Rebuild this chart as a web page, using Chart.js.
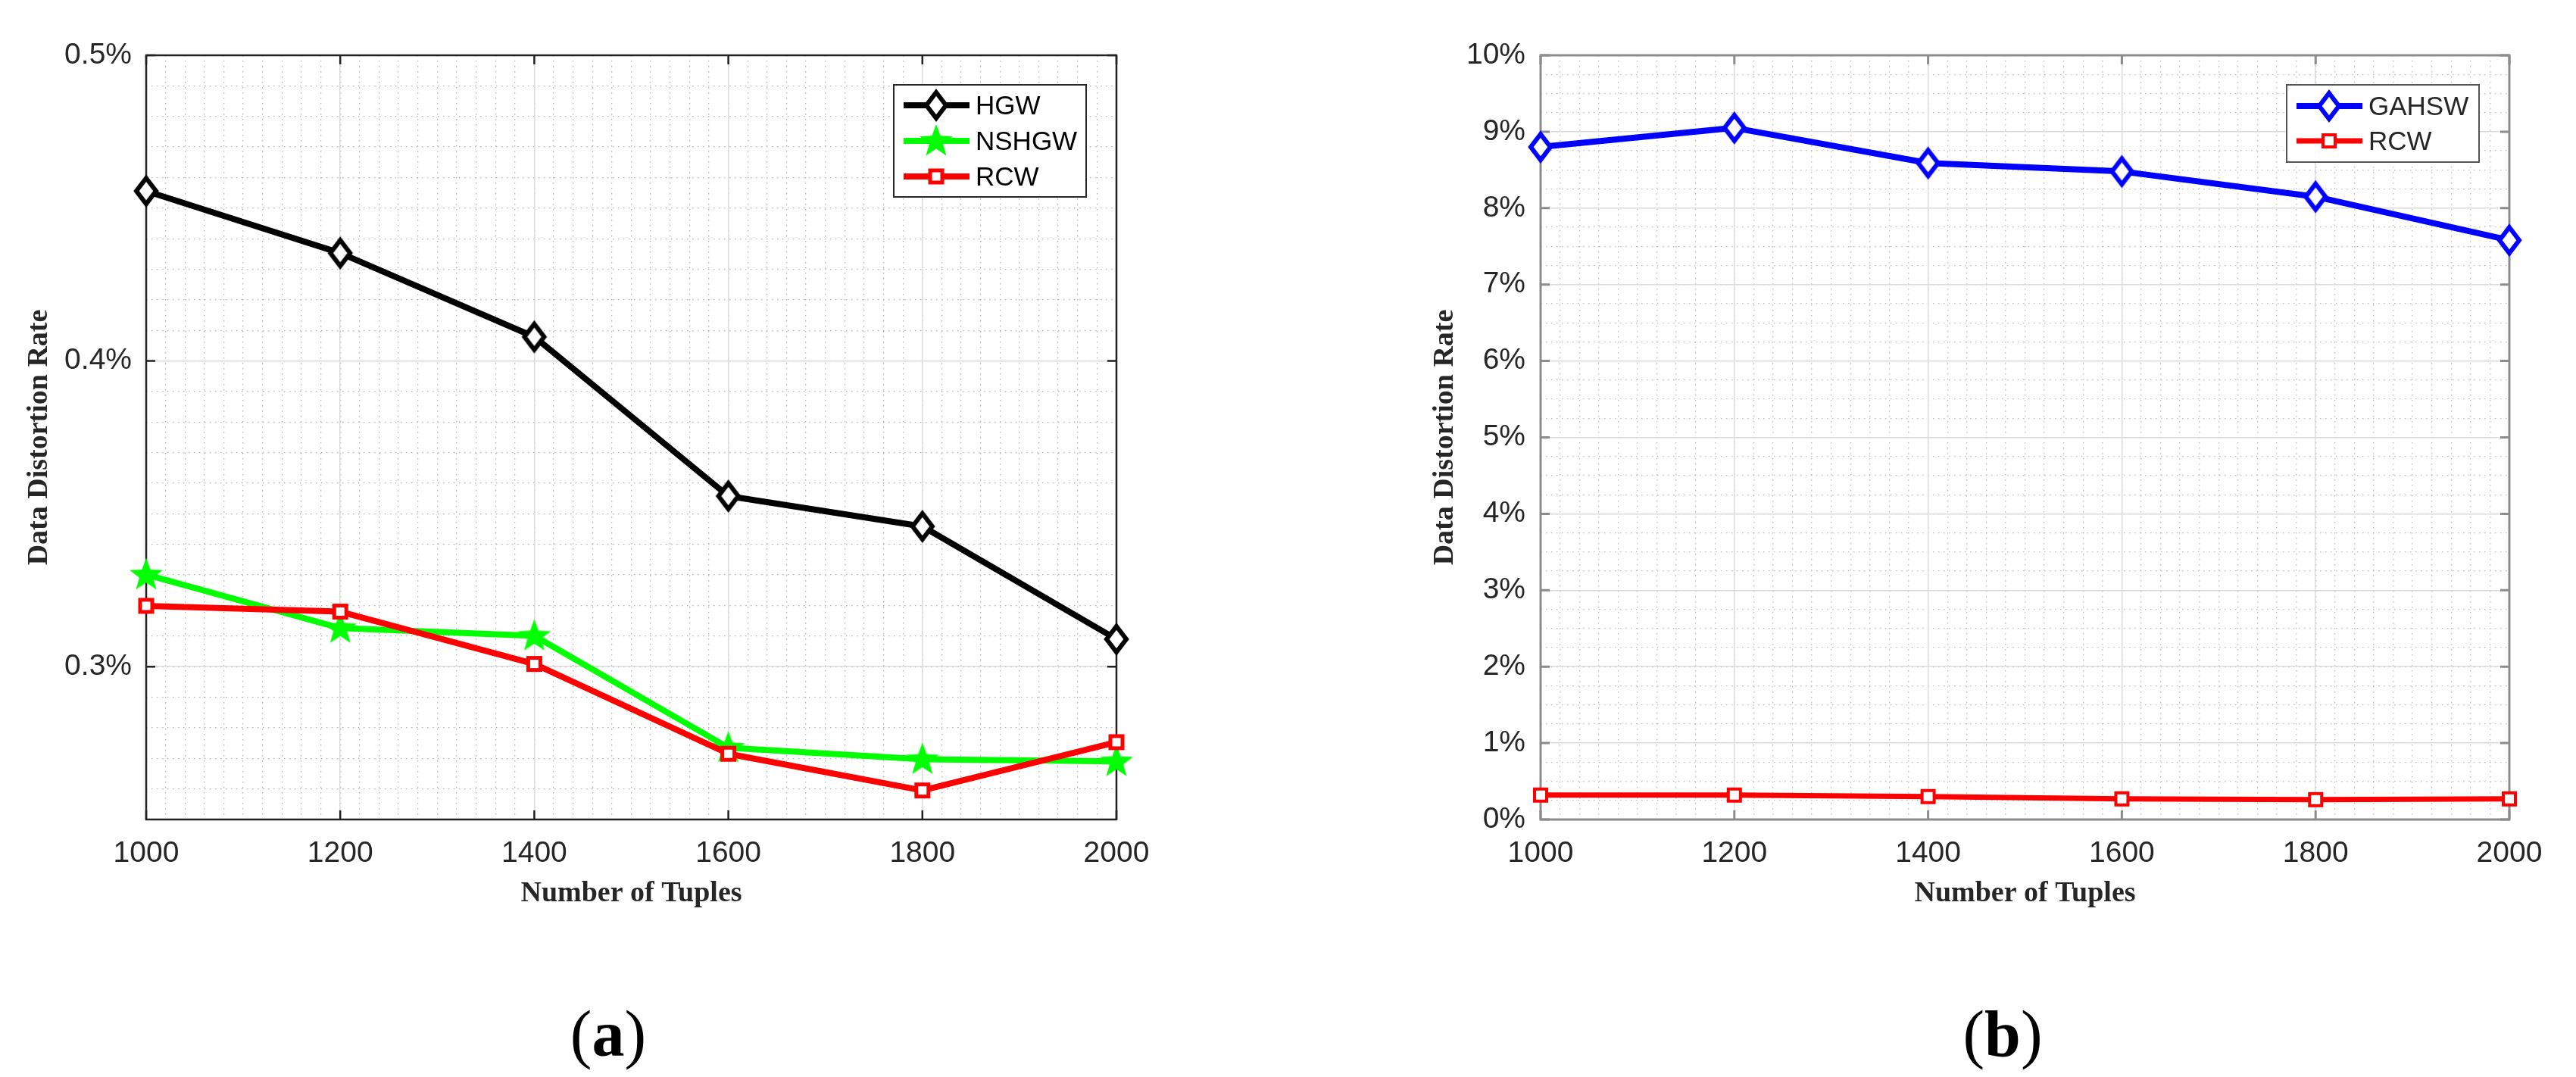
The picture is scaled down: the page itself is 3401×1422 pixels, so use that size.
<!DOCTYPE html>
<html lang="en">
<head>
<meta charset="UTF-8">
<title>Data Distortion Rate</title>
<style>
  body { margin: 0; background: #fff; }
  .panel { position: absolute; top: 0; height: 1250px; }
  .cap { position: absolute; top: 1322px; transform: translateX(-50%); font-family: "Liberation Serif", serif; font-size: 86px; line-height: 1; color: #000; }
</style>
</head>
<body>
<div class="panel" style="left:0; width:1700px"><canvas id="chartA"></canvas></div>
<div class="panel" style="left:1700px; width:1701px"><canvas id="chartB"></canvas></div>
<div class="cap" style="left:803px">(<b>a</b>)</div>
<div class="cap" style="left:2644px">(<b>b</b>)</div>

<script src="https://cdn.jsdelivr.net/npm/chart.js"></script>
<script>
  /* Data, in percent */
  const tuples = [1000, 1200, 1400, 1600, 1800, 2000];
  const hgw = [0.4556, 0.4353, 0.4079, 0.3558, 0.3459, 0.3090];
  const nshgw = [0.3301, 0.3126, 0.3101, 0.2735, 0.2697, 0.2690];
  const rcwA = [0.3199, 0.3180, 0.3009, 0.2715, 0.2595, 0.2753];
  const gahsw = [8.80, 9.05, 8.59, 8.48, 8.15, 7.58];
  const rcwB = [0.32, 0.32, 0.30, 0.27, 0.26, 0.27];

  /* Tick labels */
  const xTicks = [1000, 1200, 1400, 1600, 1800, 2000];
  const yTicksA = [0.3, 0.4, 0.5];
  const yTicksB = [0, 1, 2, 3, 4, 5, 6, 7, 8, 9, 10];

  const tickFont = { family: 'Liberation Sans', size: 39 };
  const titleFont = { family: 'Liberation Serif', size: 38, weight: 'bold' };

  /* Marker images */
  function diamondMarker(color) {
    const w = 26, h = 34, lw = 6;
    const c = document.createElement('canvas');
    c.width = w + 20; c.height = h + 24;
    const g = c.getContext('2d');
    const cx = c.width / 2, cy = c.height / 2;
    g.beginPath();
    g.moveTo(cx, cy - h / 2); g.lineTo(cx + w / 2, cy); g.lineTo(cx, cy + h / 2); g.lineTo(cx - w / 2, cy);
    g.closePath();
    g.fillStyle = '#fff'; g.fill();
    g.lineJoin = 'miter'; g.strokeStyle = color; g.lineWidth = lw; g.stroke();
    return c;
  }

  function starMarker(color) {
    const R = 23, r = 9.5;
    const c = document.createElement('canvas');
    c.width = 50; c.height = 50;
    const g = c.getContext('2d');
    g.beginPath();
    for (let i = 0; i < 10; i++) {
      const a = -Math.PI / 2 + i * Math.PI / 5;
      const rad = i % 2 ? r : R;
      g.lineTo(25 + rad * Math.cos(a), 26 + rad * Math.sin(a));
    }
    g.closePath();
    g.fillStyle = color; g.fill();
    return c;
  }

  function squareMarker(color, s, lw) {
    const c = document.createElement('canvas');
    c.width = s + lw + 4; c.height = s + lw + 4;
    const g = c.getContext('2d');
    const o = (c.width - s) / 2;
    g.fillStyle = '#fff'; g.fillRect(o, o, s, s);
    g.strokeStyle = color; g.lineWidth = lw; g.strokeRect(o, o, s, s);
    return c;
  }

  function points(ys) {
    return tuples.map((t, i) => ({ x: t, y: ys[i] }));
  }

  /* Axes box with inward ticks, like MATLAB */
  const axesBox = {
    id: 'axesBox',
    beforeDatasetsDraw(chart, args, opts) {
      const { ctx, chartArea: a, scales } = chart;
      ctx.save();
      ctx.strokeStyle = opts.color;
      ctx.lineWidth = opts.width;
      ctx.beginPath();
      scales.x.ticks.forEach(t => {
        const px = scales.x.getPixelForValue(t.value);
        ctx.moveTo(px, a.bottom); ctx.lineTo(px, a.bottom - opts.tick);
        ctx.moveTo(px, a.top); ctx.lineTo(px, a.top + opts.tick);
      });
      scales.y.ticks.forEach(t => {
        const py = scales.y.getPixelForValue(t.value);
        ctx.moveTo(a.left, py); ctx.lineTo(a.left + opts.tick, py);
        ctx.moveTo(a.right, py); ctx.lineTo(a.right - opts.tick, py);
      });
      ctx.stroke();
      ctx.strokeRect(a.left, a.top, a.right - a.left, a.bottom - a.top);
      ctx.restore();
    }
  };

  /* Boxed legend inside the plot, top right */
  const boxLegend = {
    id: 'boxLegend',
    afterDraw(chart, args, opts) {
      const { ctx, chartArea } = chart;
      const items = chart.data.datasets;
      const left = chartArea.right - opts.right - opts.width;
      const top = chartArea.top + opts.top;
      const height = opts.pad * 2 + (items.length - 1) * opts.rowGap;
      ctx.save();
      ctx.fillStyle = '#fff';
      ctx.fillRect(left, top, opts.width, height);
      ctx.strokeStyle = opts.borderColor;
      ctx.lineWidth = 2;
      ctx.strokeRect(left, top, opts.width, height);
      items.forEach((ds, i) => {
        const y = top + opts.pad + i * opts.rowGap;
        ctx.strokeStyle = ds.borderColor;
        ctx.lineWidth = ds.borderWidth;
        ctx.beginPath();
        ctx.moveTo(left + 13, y); ctx.lineTo(left + 100, y);
        ctx.stroke();
        const img = ds.pointStyle;
        ctx.drawImage(img, left + 56 - img.width / 2, y - img.height / 2);
        ctx.fillStyle = opts.textColor;
        ctx.font = '35px "Liberation Sans"';
        ctx.textBaseline = 'middle';
        ctx.fillText(ds.label, left + 108, y + 2);
      });
      ctx.restore();
    }
  };

  function makeScales(c) {
    return {
      xm: {
        type: 'linear', position: 'bottom', min: 1000, max: 2000,
        ticks: { display: false, stepSize: 20 },
        grid: { color: c.minorColor, lineWidth: 1.3, drawTicks: false, z: -2 },
        border: { display: false, dash: [1.5, 5.5] },
        afterFit: s => { s.height = 0; }
      },
      ym: {
        type: 'linear', position: 'left', min: c.yMin, max: c.yMax,
        ticks: { display: false, stepSize: c.yMinorStep },
        grid: { color: c.minorColor, lineWidth: 1.3, drawTicks: false, z: -2 },
        border: { display: false, dash: [1.5, 5.5] },
        afterFit: s => { s.width = 0; }
      },
      x: {
        type: 'linear', position: 'bottom', min: 1000, max: 2000,
        afterBuildTicks: s => { s.ticks = xTicks.map(v => ({ value: v })); },
        ticks: { font: tickFont, color: '#262626', padding: 22, maxRotation: 0, callback: v => String(v) },
        grid: { color: '#dcdcdc', lineWidth: 1.5, drawTicks: false },
        border: { display: false },
        title: { display: true, text: 'Number of Tuples', font: titleFont, color: '#262626', padding: { top: 0, bottom: 47 } },
        afterFit: s => { s.height = 168; }
      },
      y: {
        type: 'linear', position: 'left', min: c.yMin, max: c.yMax,
        afterBuildTicks: s => { s.ticks = c.yTicks.map(v => ({ value: v })); },
        ticks: { font: tickFont, color: '#262626', padding: c.tickPad, callback: c.yLabel },
        grid: { color: '#dcdcdc', lineWidth: 1.5, drawTicks: false },
        border: { display: false },
        title: { display: true, text: 'Data Distortion Rate', font: titleFont, color: '#262626', padding: { top: c.titlePad, bottom: 0 } },
        afterFit: s => { s.width = c.yWidth; }
      }
    };
  }

  function lineSet(label, ys, color, width, marker, order) {
    return {
      label: label,
      data: points(ys),
      borderColor: color,
      backgroundColor: color,
      borderWidth: width,
      pointStyle: marker,
      pointRadius: 12,
      tension: 0,
      borderJoinStyle: 'round',
      clip: false,
      order: order
    };
  }

  /* Panel (a) */
  new Chart(document.getElementById('chartA'), {
    type: 'line',
    data: {
      datasets: [
        lineSet('HGW', hgw, '#000000', 8, diamondMarker('#000000'), 3),
        lineSet('NSHGW', nshgw, '#00ff00', 8, starMarker('#00ff00'), 2),
        lineSet('RCW', rcwA, '#ff0000', 8, squareMarker('#ff0000', 16, 5), 1)
      ]
    },
    options: {
      responsive: true,
      maintainAspectRatio: false,
      animation: false,
      devicePixelRatio: 1,
      layout: { padding: { top: 73, right: 226, bottom: 0, left: 0 } },
      scales: makeScales({
        yMin: 0.25, yMax: 0.5, yMinorStep: 0.01, yTicks: yTicksA,
        yLabel: v => v.toFixed(1) + '%', tickPad: 19, titlePad: 29, yWidth: 193,
        minorColor: '#b4b4b4'
      }),
      plugins: {
        legend: { display: false },
        tooltip: { enabled: false },
        axesBox: { color: '#222222', width: 2.5, tick: 12 },
        boxLegend: { right: 40, top: 39, width: 254, pad: 27, rowGap: 47, borderColor: '#262626', textColor: '#000000' }
      }
    },
    plugins: [axesBox, boxLegend]
  });

  /* Panel (b) */
  new Chart(document.getElementById('chartB'), {
    type: 'line',
    data: {
      datasets: [
        lineSet('GAHSW', gahsw, '#0000ff', 8, diamondMarker('#0000ff'), 2),
        lineSet('RCW', rcwB, '#ff0000', 7, squareMarker('#ff0000', 16, 4), 1)
      ]
    },
    options: {
      responsive: true,
      maintainAspectRatio: false,
      animation: false,
      devicePixelRatio: 1,
      layout: { padding: { top: 73, right: 88, bottom: 0, left: 0 } },
      scales: makeScales({
        yMin: 0, yMax: 10, yMinorStep: 0.25, yTicks: yTicksB,
        yLabel: v => v + '%', tickPad: 20, titlePad: 185, yWidth: 334,
        minorColor: '#bdbdbd'
      }),
      plugins: {
        legend: { display: false },
        tooltip: { enabled: false },
        axesBox: { color: '#8c8c8c', width: 3, tick: 12 },
        boxLegend: { right: 40, top: 39, width: 254, pad: 28, rowGap: 46, borderColor: '#555555', textColor: '#262626' }
      }
    },
    plugins: [axesBox, boxLegend]
  });
</script>
</body>
</html>
